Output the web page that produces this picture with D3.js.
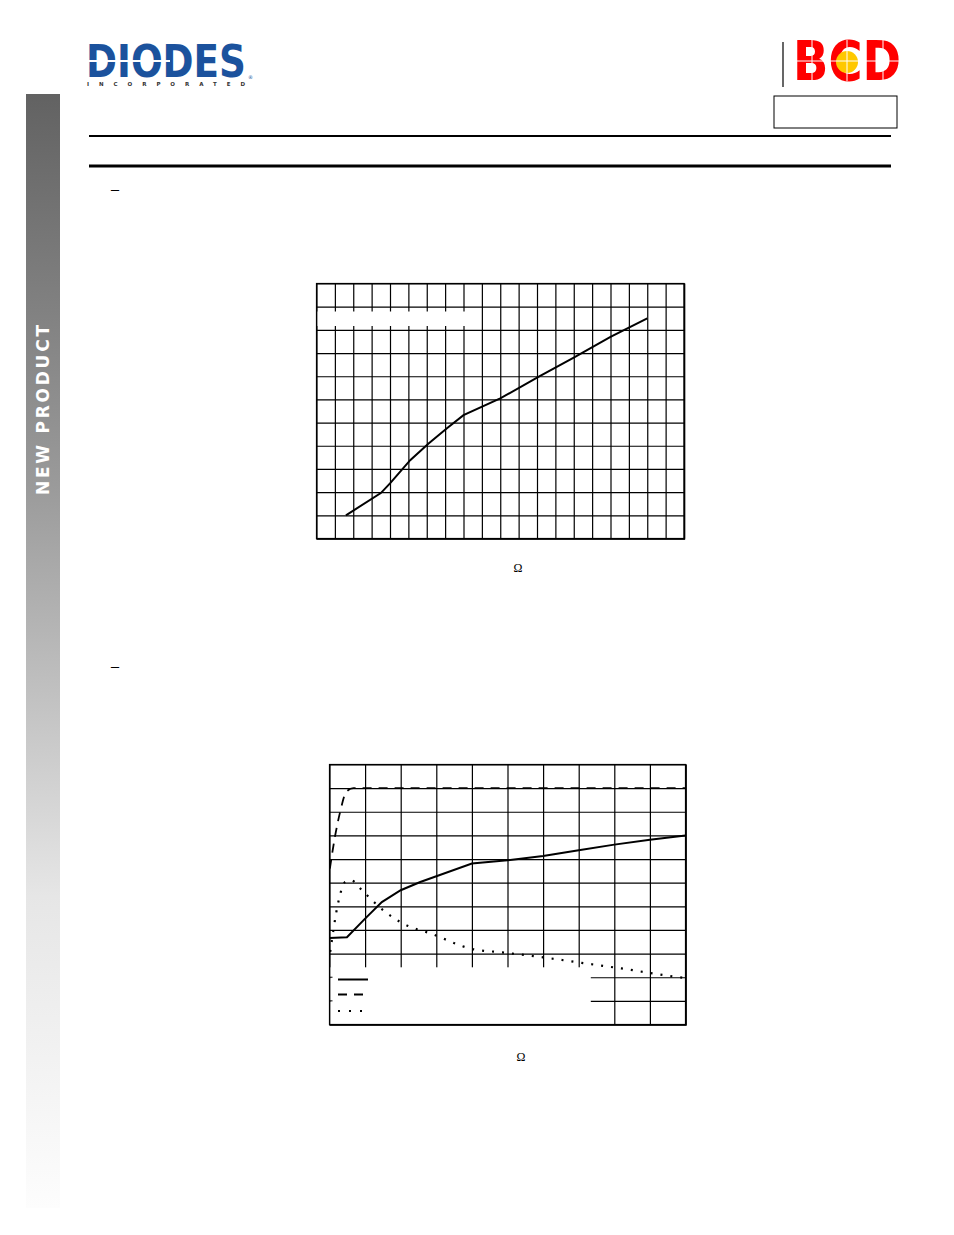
<!DOCTYPE html>
<html>
<head>
<meta charset="utf-8">
<script src="https://cdn.jsdelivr.net/npm/d3@7/dist/d3.min.js"></script>
<style>
  html, body { margin: 0; padding: 0; background: #fff; }
  svg { display: block; }
</style>
</head>
<body>
<script>
// ---------- Chart 1 data ----------
const c1XTicks = [0,10,20,30,40,50,60,70,80,90,100,110,120,130,140,150,160,170,180,190,200];
const c1YTicks = [0,0.5,1,1.5,2,2.5,3,3.5,4,4.5,5,5.5];
const c1X = [16, 35, 40, 51, 61, 71, 80, 100, 121, 140, 160, 180];
const c1Y = [0.5, 0.98, 1.19, 1.69, 2.05, 2.38, 2.66, 3.02, 3.49, 3.9, 4.35, 4.75];

// ---------- Chart 2 data ----------
const c2XTicks = [0,10,20,30,40,50,60,70,80,90,100];
const c2YTicks = [0,10,20,30,40,50,60,70,80,90,100,110];
const solidX  = [0, 4.9, 10, 14.7, 20, 25.5, 40, 50, 60, 70, 80, 90, 100];
const solidY  = [36.6, 36.9, 44.8, 51.8, 56.8, 60.3, 68.1, 69.5, 71.3, 73.7, 76.1, 78.2, 80.0];
const dashX   = [0.1, 1.6, 3.0, 4.7, 6.7, 100];
const dashY   = [66, 80, 90, 98.4, 100, 100];
const dotX    = [0.2, 2.5, 4.4, 6.1, 9.1, 14.7, 20.3, 28.9, 40.2, 48.6, 60, 71.2, 82.5, 96.7, 100];
const dotY    = [30.7, 51.9, 60.3, 61, 56.8, 48.8, 43, 38.2, 31.9, 30.5, 28.4, 26, 23.6, 20.3, 19.7];

const W = 954, H = 1235;
const svg = d3.select("body").append("svg").attr("width", W).attr("height", H);

// ---------- Sidebar ----------
const defs = svg.append("defs");
const grad = defs.append("linearGradient").attr("id","side").attr("x1",0).attr("y1",0).attr("x2",0).attr("y2",1);
grad.append("stop").attr("offset","0%").attr("stop-color","#626262");
grad.append("stop").attr("offset","35%").attr("stop-color","#9a9a9a");
grad.append("stop").attr("offset","72%").attr("stop-color","#e6e6e6");
grad.append("stop").attr("offset","100%").attr("stop-color","#fdfdfd");
svg.append("rect").attr("x",26).attr("y",94).attr("width",34).attr("height",1114).attr("fill","url(#side)");
svg.append("text")
  .attr("transform","translate(49,410) rotate(-90)")
  .attr("text-anchor","middle")
  .attr("font-family","DejaVu Sans, Verdana, sans-serif")
  .attr("font-weight","bold")
  .attr("font-size",17)
  .attr("fill","#fff")
  .attr("textLength",170).attr("lengthAdjust","spacing")
  .text("NEW PRODUCT");

// ---------- DIODES logo ----------
const blue = "#1b529d";
svg.append("text")
  .attr("x",86).attr("y",77)
  .attr("font-family","DejaVu Sans, sans-serif").attr("font-weight","bold")
  .attr("font-size",45).attr("fill",blue)
  .attr("textLength",160).attr("lengthAdjust","spacingAndGlyphs")
  .text("DIODES");
svg.append("line").attr("x1",86).attr("x2",170).attr("y1",61).attr("y2",61).attr("stroke","#fff").attr("stroke-width",2);
svg.append("text").attr("x",248).attr("y",79).attr("font-family","DejaVu Sans, sans-serif").attr("font-size",5).attr("fill",blue).text("®");
svg.append("text")
  .attr("x",87).attr("y",86)
  .attr("font-family","DejaVu Sans, sans-serif").attr("font-weight","bold")
  .attr("font-size",5.5).attr("fill","#333")
  .attr("textLength",158).attr("lengthAdjust","spacing")
  .text("INCORPORATED");

// ---------- BCD logo ----------
svg.append("line").attr("x1",783).attr("x2",783).attr("y1",42).attr("y2",87).attr("stroke","#000").attr("stroke-width",1.2);
svg.append("text")
  .attr("x",793).attr("y",80)
  .attr("font-family","DejaVu Sans, sans-serif").attr("font-weight","bold")
  .attr("font-size",55).attr("fill","#ff0000")
  .attr("textLength",108).attr("lengthAdjust","spacingAndGlyphs")
  .text("BCD");
svg.append("circle").attr("cx",847).attr("cy",62).attr("r",11).attr("fill","#ffc800");
svg.append("line").attr("x1",793).attr("x2",901).attr("y1",61).attr("y2",61).attr("stroke","#fff").attr("stroke-width",1);
[812, 847, 883].forEach(x => svg.append("line").attr("x1",x).attr("x2",x).attr("y1",40).attr("y2",81).attr("stroke","#fff").attr("stroke-width",1));
svg.append("rect").attr("x",774).attr("y",96).attr("width",123).attr("height",32).attr("fill","none").attr("stroke","#000").attr("stroke-width",1);

// ---------- Header rules ----------
svg.append("line").attr("x1",89).attr("x2",891).attr("y1",136).attr("y2",136).attr("stroke","#000").attr("stroke-width",2);
svg.append("line").attr("x1",89).attr("x2",891).attr("y1",166).attr("y2",166).attr("stroke","#000").attr("stroke-width",3);

// dashes
[[111,194],[111,671]].forEach(p => svg.append("text").attr("x",p[0]).attr("y",p[1])
  .attr("font-family","Liberation Serif, Times New Roman, serif").attr("font-size",16).attr("fill","#000").text("–"));

// ---------- Chart 1 ----------
(function(){
  const L = 316.5, R = 684, T = 283.5, B = 538.5;
  const x = d3.scaleLinear().domain([0,200]).range([L,R]);
  const y = d3.scaleLinear().domain([0,5.5]).range([B,T]);
  const g = svg.append("g");
  g.append("g").attr("transform",`translate(0,${B})`)
    .call(d3.axisBottom(x).tickValues(c1XTicks).tickSize(-(B-T)).tickFormat(""))
    .call(s => s.select(".domain").remove())
    .call(s => s.selectAll("line").attr("stroke","#000").attr("stroke-width",1.2));
  g.append("g").attr("transform",`translate(${L},0)`)
    .call(d3.axisLeft(y).tickValues(c1YTicks).tickSize(-(R-L)).tickFormat(""))
    .call(s => s.select(".domain").remove())
    .call(s => s.selectAll("line").attr("stroke","#000").attr("stroke-width",1.2));
  // blank band
  g.append("rect").attr("x",L+1).attr("y",311.5).attr("width",x(88)-L).attr("height",14.5).attr("fill","#fff");
  // border
  g.append("rect").attr("x",L).attr("y",T).attr("width",R-L).attr("height",B-T).attr("fill","none").attr("stroke","#000").attr("stroke-width",1.2);
  g.append("line").attr("x1",L).attr("x2",R+1).attr("y1",B+0.5).attr("y2",B+0.5).attr("stroke","#000").attr("stroke-width",1.5);
  g.append("line").attr("x1",R+0.5).attr("x2",R+0.5).attr("y1",T).attr("y2",B+1).attr("stroke","#000").attr("stroke-width",1.5);
  const line = d3.line().x((d,i)=>x(c1X[i])).y((d,i)=>y(c1Y[i]));
  g.append("path").datum(c1X).attr("d",line).attr("fill","none").attr("stroke","#000").attr("stroke-width",2);
  g.append("text").attr("x",518).attr("y",572).attr("text-anchor","middle")
    .attr("font-family","Liberation Serif, Times New Roman, serif").attr("font-size",12).text("Ω");
})();

// ---------- Chart 2 ----------
(function(){
  const L = 329.5, R = 685.5, T = 764.5, B = 1024.5;
  const x = d3.scaleLinear().domain([0,100]).range([L,R]);
  const y = d3.scaleLinear().domain([0,110]).range([B,T]);
  const g = svg.append("g");
  g.append("g").attr("transform",`translate(0,${B})`)
    .call(d3.axisBottom(x).tickValues(c2XTicks).tickSize(-(B-T)).tickFormat(""))
    .call(s => s.select(".domain").remove())
    .call(s => s.selectAll("line").attr("stroke","#000").attr("stroke-width",1.2));
  g.append("g").attr("transform",`translate(${L},0)`)
    .call(d3.axisLeft(y).tickValues(c2YTicks).tickSize(-(R-L)).tickFormat(""))
    .call(s => s.select(".domain").remove())
    .call(s => s.selectAll("line").attr("stroke","#000").attr("stroke-width",1.2));
  // legend box (white)
  const lx0 = L + 1, lx1 = x(73.4), ly0 = y(24.2);
  g.append("rect").attr("x",lx0).attr("y",ly0).attr("width",lx1-lx0).attr("height",B-ly0).attr("fill","#fff");
  // small left ticks inside legend area
  [20,10].forEach(v => g.append("line").attr("x1",L).attr("x2",L+3).attr("y1",y(v)).attr("y2",y(v)).attr("stroke","#000"));
  // border
  g.append("rect").attr("x",L).attr("y",T).attr("width",R-L).attr("height",B-T).attr("fill","none").attr("stroke","#000").attr("stroke-width",1.2);
  g.append("line").attr("x1",L).attr("x2",R+1).attr("y1",B+0.5).attr("y2",B+0.5).attr("stroke","#000").attr("stroke-width",1.6);
  g.append("line").attr("x1",R+0.5).attr("x2",R+0.5).attr("y1",T).attr("y2",B+1).attr("stroke","#000").attr("stroke-width",1.5);

  const mk = (xs, ys, curve) => d3.line().curve(curve).x((d,i)=>x(xs[i])).y((d,i)=>y(ys[i]))(xs);
  g.append("path").attr("d",mk(solidX,solidY,d3.curveLinear)).attr("fill","none").attr("stroke","#000").attr("stroke-width",2);
  g.append("path").attr("d",mk(dashX,dashY,d3.curveMonotoneX)).attr("fill","none").attr("stroke","#000")
    .attr("stroke-width",1.8).attr("stroke-dasharray","9,7");
  g.append("path").attr("d",mk(dotX,dotY,d3.curveMonotoneX)).attr("fill","none").attr("stroke","#000")
    .attr("stroke-width",2.2).attr("stroke-dasharray","2,8");

  // legend samples
  const lgX0 = 338, lgX1 = 368;
  g.append("line").attr("x1",lgX0).attr("x2",lgX1).attr("y1",979.5).attr("y2",979.5).attr("stroke","#000").attr("stroke-width",2);
  g.append("line").attr("x1",lgX0).attr("x2",lgX1-5).attr("y1",994.5).attr("y2",994.5).attr("stroke","#000").attr("stroke-width",1.8).attr("stroke-dasharray","9,7");
  g.append("line").attr("x1",lgX0).attr("x2",lgX1-5).attr("y1",1011).attr("y2",1011).attr("stroke","#000").attr("stroke-width",2.2).attr("stroke-dasharray","2,9");

  g.append("text").attr("x",521).attr("y",1061).attr("text-anchor","middle")
    .attr("font-family","Liberation Serif, Times New Roman, serif").attr("font-size",12).text("Ω");
})();
</script>
</body>
</html>
